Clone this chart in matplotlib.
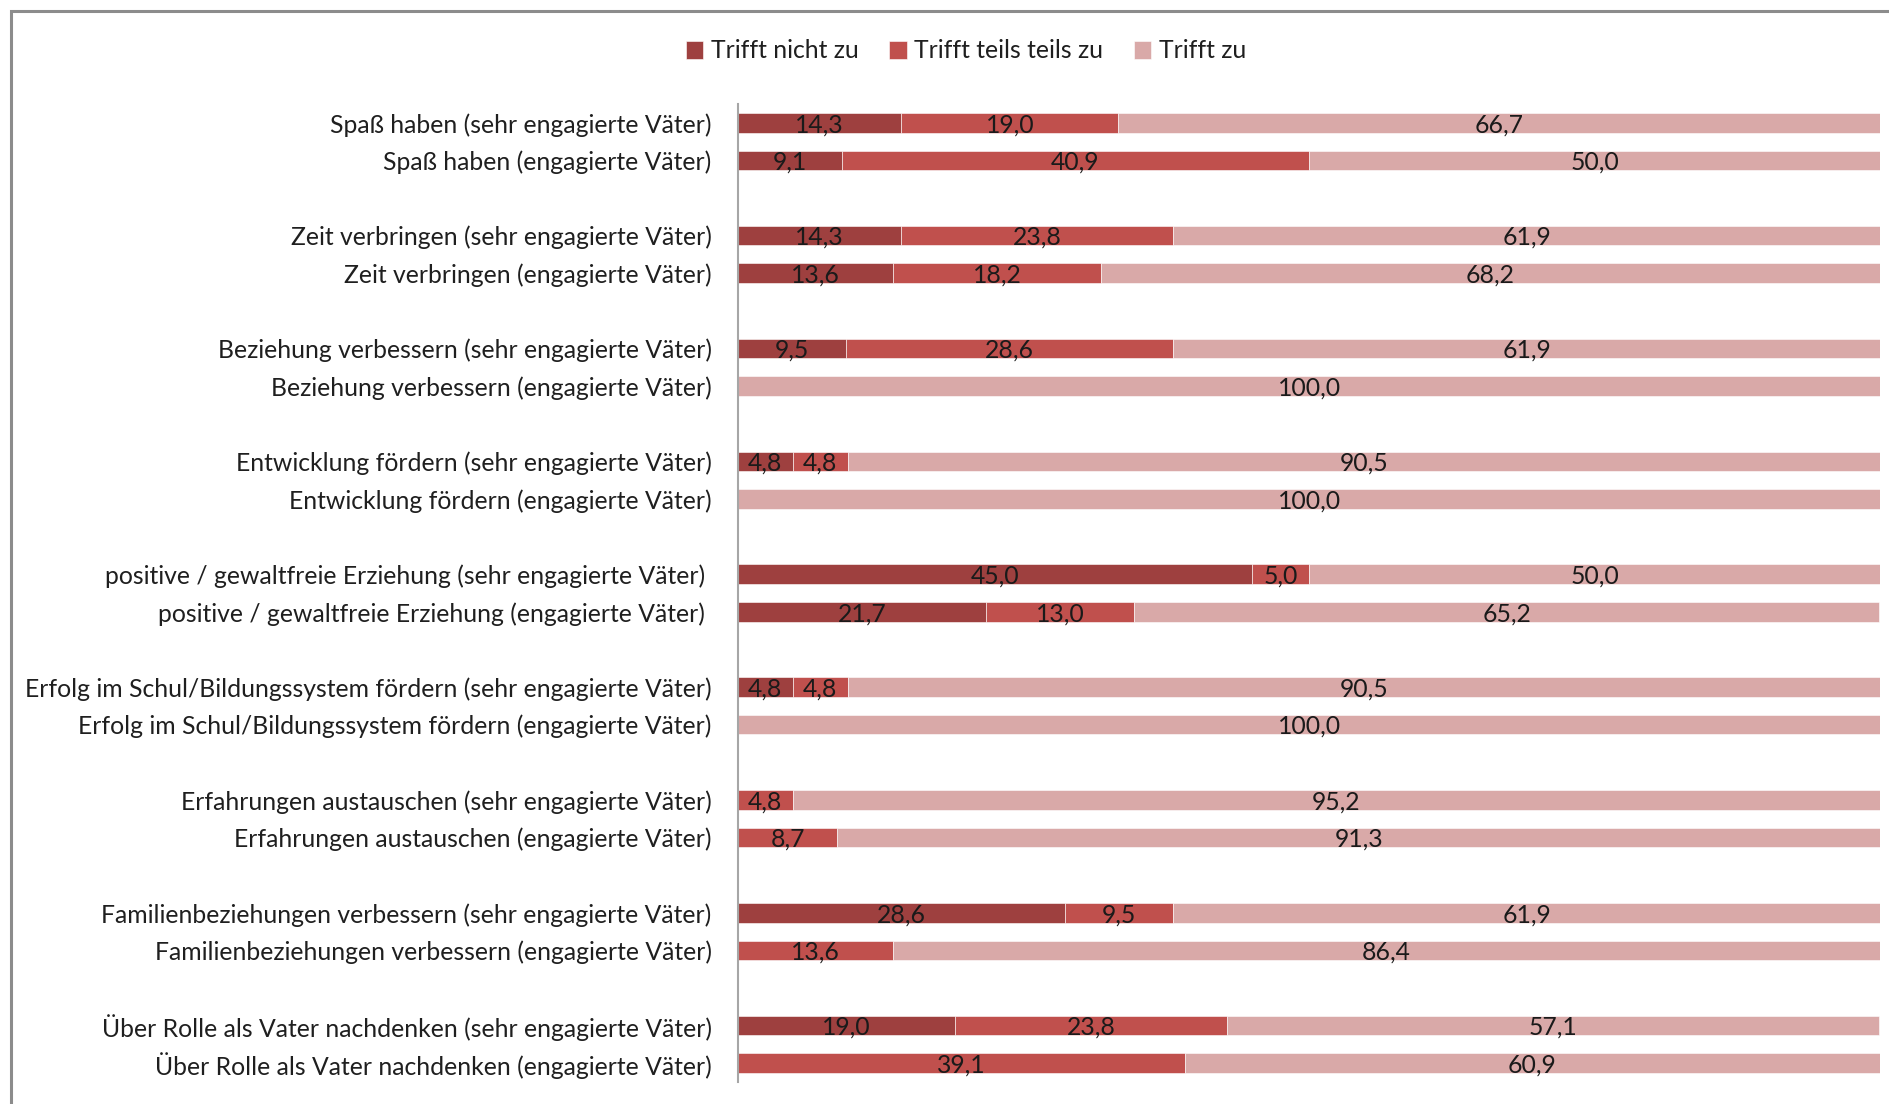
import matplotlib
matplotlib.use("Agg")
import matplotlib.pyplot as plt
from matplotlib.patches import Rectangle

plt.rcParams['font.family'] = ['Lato', 'DejaVu Sans']

categories = [
    "Spaß haben (sehr engagierte Väter)",
    "Spaß haben (engagierte Väter)",
    "Zeit verbringen (sehr engagierte Väter)",
    "Zeit verbringen (engagierte Väter)",
    "Beziehung verbessern (sehr engagierte Väter)",
    "Beziehung verbessern (engagierte Väter)",
    "Entwicklung fördern (sehr engagierte Väter)",
    "Entwicklung fördern (engagierte Väter)",
    "positive / gewaltfreie Erziehung (sehr engagierte Väter) ",
    "positive / gewaltfreie Erziehung (engagierte Väter) ",
    "Erfolg im Schul/Bildungssystem fördern (sehr engagierte Väter)",
    "Erfolg im Schul/Bildungssystem fördern (engagierte Väter)",
    "Erfahrungen austauschen (sehr engagierte Väter)",
    "Erfahrungen austauschen (engagierte Väter)",
    "Familienbeziehungen verbessern (sehr engagierte Väter)",
    "Familienbeziehungen verbessern (engagierte Väter)",
    "Über Rolle als Vater nachdenken (sehr engagierte Väter)",
    "Über Rolle als Vater nachdenken (engagierte Väter)",
]
trifft_nicht = [14.3, 9.1, 14.3, 13.6, 9.5, 0, 4.8, 0, 45.0, 21.7, 4.8, 0, 0, 0, 28.6, 0, 19.0, 0]
trifft_teils = [19.0, 40.9, 23.8, 18.2, 28.6, 0, 4.8, 0, 5.0, 13.0, 4.8, 0, 4.8, 8.7, 9.5, 13.6, 23.8, 39.1]
trifft_zu = [66.7, 50.0, 61.9, 68.2, 61.9, 100.0, 90.5, 100.0, 50.0, 65.2, 90.5, 100.0, 95.2, 91.3, 61.9, 86.4, 57.1, 60.9]
series_names = ["Trifft nicht zu", "Trifft teils teils zu", "Trifft zu"]
colors = ["#9E403F", "#C0504D", "#D9A9A8"]

W, H = 1890, 1104
fig = plt.figure(figsize=(W / 100, H / 100), dpi=100)

# chart frame border
fig.patches.append(Rectangle((11 / W, -0.1), 1.2, 1 - 11 / H + 0.1, transform=fig.transFigure,
                             fill=False, edgecolor="#8C8C8C", linewidth=2.2))

ax_left, ax_right = 738 / W, 1880 / W
ax_top, ax_bottom = 1 - 104 / H, 1 - 1082 / H
ax = fig.add_axes([ax_left, ax_bottom, ax_right - ax_left, ax_top - ax_bottom])

positions = [3 * (i // 2) + (i % 2) for i in range(len(categories))]
left = [0.0] * len(categories)
fs = 17.8
for name, vals, col in zip(series_names, [trifft_nicht, trifft_teils, trifft_zu], colors):
    ax.barh(positions, vals, left=left, height=0.52, color=col, label=name,
            edgecolor="white", linewidth=0.4)
    for p, l, v in zip(positions, left, vals):
        if v > 0:
            ax.text(l + v / 2, p + 0.05, f"{v:.1f}".replace(".", ","), ha="center", va="center",
                    fontsize=fs, color="#1A1A1A")
    left = [a + b for a, b in zip(left, vals)]

ax.set_xlim(0, 100)
ax.set_ylim(25.5, -0.5)
ax.set_yticks(positions)
ax.set_yticklabels(categories, fontsize=fs, color="#1F1F1F")
ax.tick_params(axis="y", length=0, pad=19)
ax.set_xticks([])
for s in ["top", "right", "bottom"]:
    ax.spines[s].set_visible(False)
ax.spines["left"].set_color("#A6A6A6")
ax.spines["left"].set_linewidth(1.5)

fig.legend(loc="center", bbox_to_anchor=(966 / W, 1 - 51 / H), ncol=3, frameon=False,
           fontsize=fs, handlelength=0.7, handleheight=0.7, handletextpad=0.3,
           columnspacing=1.25, labelcolor="#1F1F1F")

fig.savefig("out.png", dpi=100)
